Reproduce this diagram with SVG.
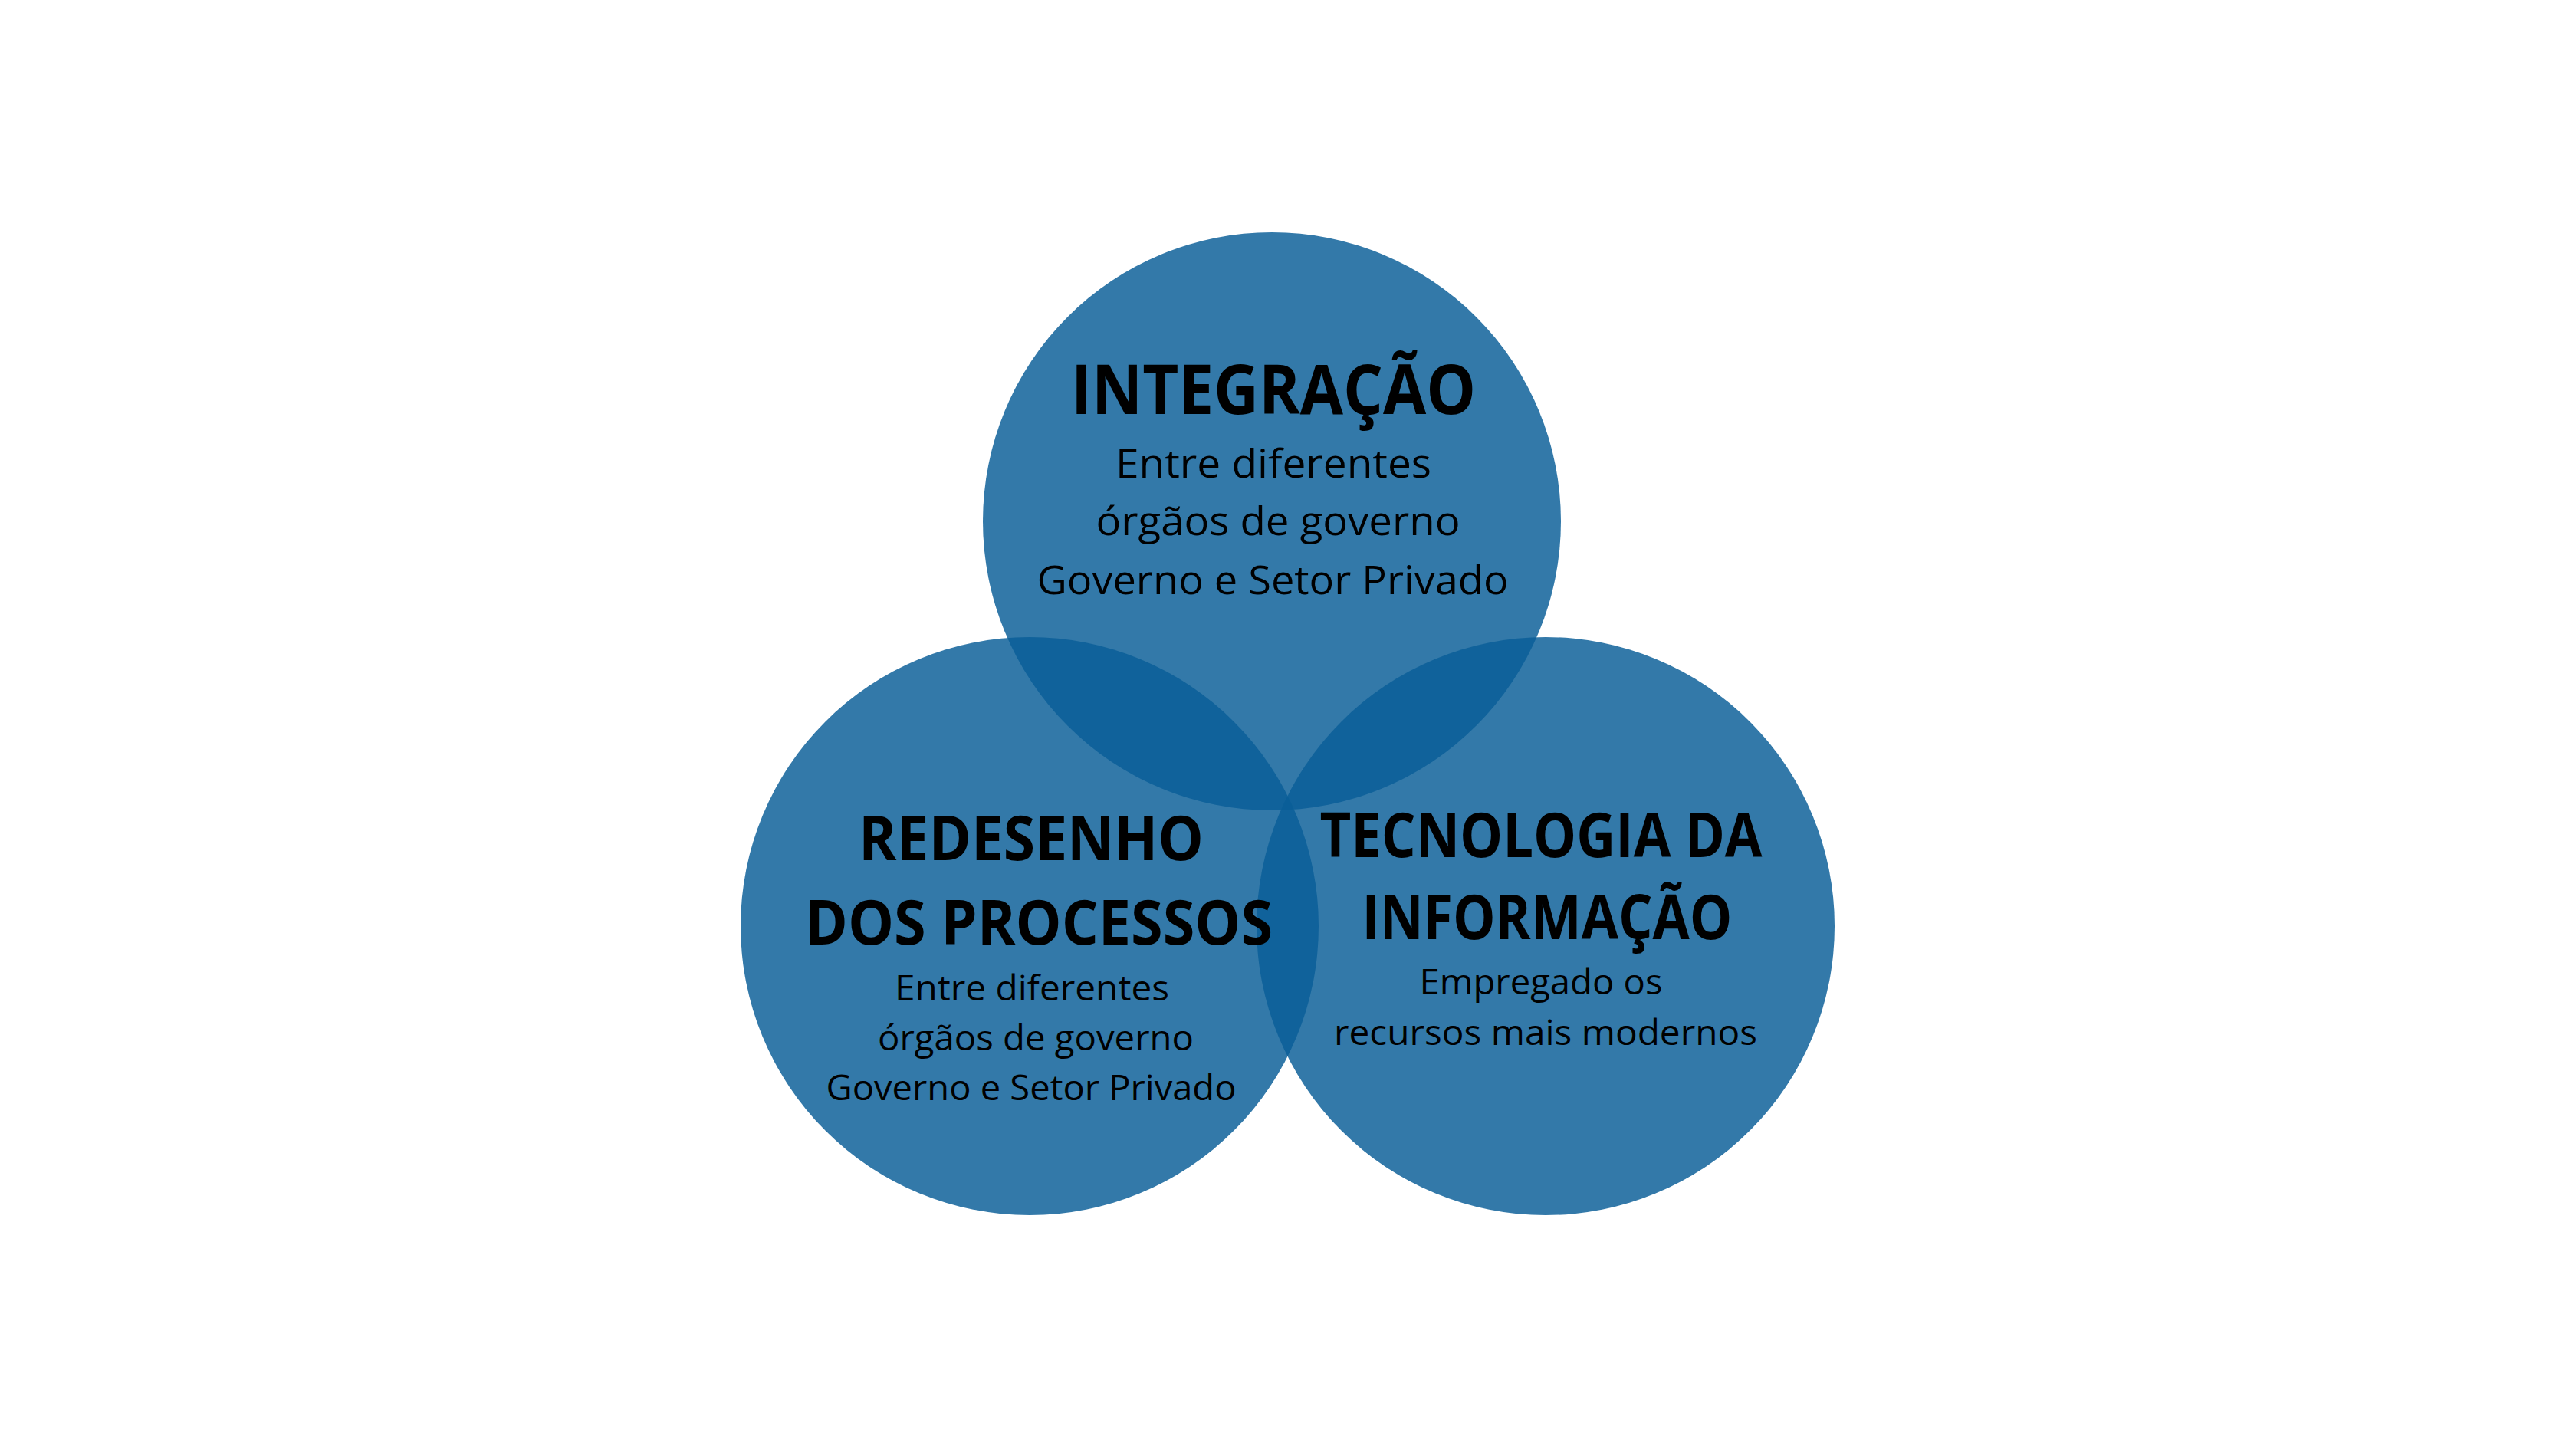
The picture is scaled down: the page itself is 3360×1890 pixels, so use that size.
<svg xmlns="http://www.w3.org/2000/svg" width="3360" height="1890" viewBox="0 0 3360 1890">
  <style>
    .bubble { fill: #0a5e97; fill-opacity: 0.83; }
    .title { font-family: "Open Sans", "Liberation Sans", sans-serif; font-weight: 700; fill: #000; text-anchor: middle; }
    .body { font-family: "Open Sans", "Liberation Sans", sans-serif; font-weight: 400; fill: #000; text-anchor: middle; }
    .t1 { font-size: 90px; }
    .t2 { font-size: 80px; }
    .b1 { font-size: 51px; }
    .b2 { font-size: 46px; }
  </style>
  <rect width="3360" height="1890" fill="#ffffff"/>
  <g id="connectors"></g>
  <g id="circles">
    <circle id="circle-integracao" class="bubble" cx="1659" cy="680" r="377"/>
    <circle id="circle-redesenho" class="bubble" cx="1343" cy="1208" r="377"/>
    <circle id="circle-tecnologia" class="bubble" cx="2016" cy="1208" r="377"/>
  </g>
  <g id="node-integracao">
    <text class="title t1" x="1661" y="540" textLength="528" lengthAdjust="spacingAndGlyphs">INTEGRAÇÃO</text>
    <text class="body b1" x="1661" y="623" textLength="412" lengthAdjust="spacingAndGlyphs">Entre diferentes</text>
    <text class="body b1" x="1667" y="698" textLength="475" lengthAdjust="spacingAndGlyphs">órgãos de governo</text>
    <text class="body b1" x="1660" y="775" textLength="615" lengthAdjust="spacingAndGlyphs">Governo e Setor Privado</text>
  </g>
  <g id="node-redesenho">
    <text class="title t2" x="1345" y="1122" textLength="450" lengthAdjust="spacingAndGlyphs">REDESENHO</text>
    <text class="title t2" x="1355" y="1232" textLength="610" lengthAdjust="spacingAndGlyphs">DOS PROCESSOS</text>
    <text class="body b2" x="1346" y="1305" textLength="358" lengthAdjust="spacingAndGlyphs">Entre diferentes</text>
    <text class="body b2" x="1351" y="1370" textLength="412" lengthAdjust="spacingAndGlyphs">órgãos de governo</text>
    <text class="body b2" x="1345" y="1435" textLength="535" lengthAdjust="spacingAndGlyphs">Governo e Setor Privado</text>
  </g>
  <g id="node-tecnologia">
    <text class="title t2" x="2010" y="1118" textLength="577" lengthAdjust="spacingAndGlyphs">TECNOLOGIA DA</text>
    <text class="title t2" x="2018" y="1225" textLength="483" lengthAdjust="spacingAndGlyphs">INFORMAÇÃO</text>
    <text class="body b2" x="2010" y="1297" textLength="317" lengthAdjust="spacingAndGlyphs">Empregado os</text>
    <text class="body b2" x="2016" y="1363" textLength="552" lengthAdjust="spacingAndGlyphs">recursos mais modernos</text>
  </g>
</svg>
